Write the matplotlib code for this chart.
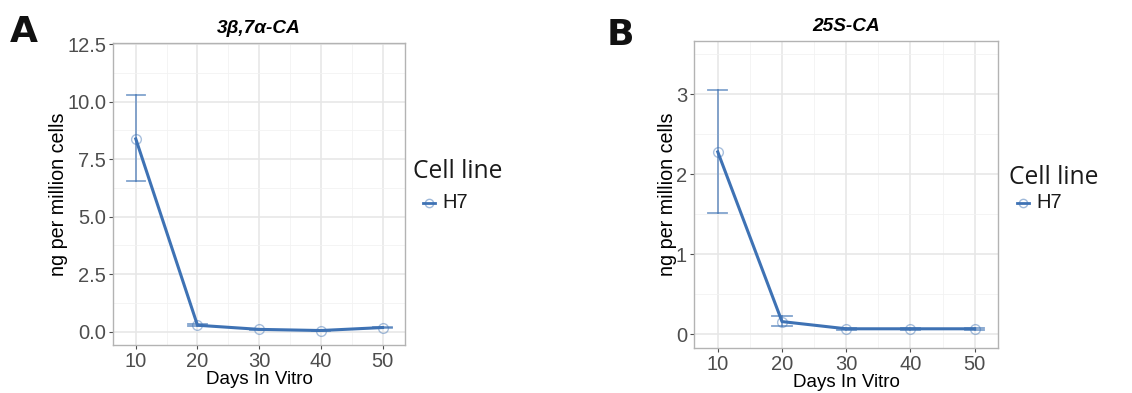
import matplotlib
matplotlib.use("Agg")
import matplotlib.pyplot as plt
from matplotlib.lines import Line2D
from matplotlib.ticker import MultipleLocator

days = [10, 20, 30, 40, 50]

# Panel A: 3beta,7alpha-CA
a_mean = [8.38, 0.28, 0.10, 0.05, 0.18]
a_low = [6.55, 0.24, 0.08, 0.03, 0.14]
a_high = [10.27, 0.32, 0.12, 0.07, 0.22]

# Panel B: 25S-CA
b_mean = [2.28, 0.16, 0.07, 0.07, 0.07]
b_low = [1.52, 0.10, 0.06, 0.06, 0.06]
b_high = [3.05, 0.23, 0.08, 0.08, 0.08]

x_ticks = [10, 20, 30, 40, 50]
a_yticks = [0.0, 2.5, 5.0, 7.5, 10.0, 12.5]
b_yticks = [0, 1, 2, 3]

COLOR = "#3e72b4"
TXT = "#4d4d4d"
FS = "Liberation Sans"

fig = plt.figure(figsize=(11.32, 3.93), dpi=100)


def draw(ax, mean, low, high, yticks, ylim, fmt, minor_y):
    ax.set_xlim(6.3, 53.65)
    ax.set_ylim(*ylim)
    ax.xaxis.set_minor_locator(MultipleLocator(5))
    ax.yaxis.set_minor_locator(MultipleLocator(minor_y))
    ax.set_xticks(x_ticks)
    ax.set_yticks(yticks)
    ax.set_xticklabels([str(v) for v in x_ticks], fontsize=14.5, color=TXT, family=FS)
    ax.set_yticklabels([fmt.format(v) for v in yticks], fontsize=14.5, color=TXT, family=FS)
    ax.grid(which="major", color="#e6e6e6", lw=1.1)
    ax.grid(which="minor", color="#f2f2f2", lw=0.6)
    ax.set_axisbelow(True)
    for s in ax.spines.values():
        s.set_color("#b3b3b3")
        s.set_linewidth(1.0)
    ax.tick_params(which="major", length=3.0, color="#4d4d4d", width=0.8, pad=2)
    ax.tick_params(which="minor", length=0)
    # error bars (caps of width +/-1.5 days)
    for xi, lo, hi in zip(days, low, high):
        ax.plot([xi, xi], [lo, hi], color=COLOR, lw=1.3, alpha=0.65, zorder=2)
        ax.plot([xi - 1.5, xi + 1.5], [lo, lo], color=COLOR, lw=1.3, alpha=0.65, zorder=2)
        ax.plot([xi - 1.5, xi + 1.5], [hi, hi], color=COLOR, lw=1.3, alpha=0.65, zorder=2)
    ax.plot(days, mean, color=COLOR, lw=2.2, zorder=3)
    ax.plot(days, mean, ls="none", marker="o", ms=7, mfc="none", mec=COLOR,
            mew=1.0, alpha=0.45, zorder=4)
    ax.set_xlabel("Days In Vitro", fontsize=13.5, family=FS, color="black", labelpad=0)
    ax.set_ylabel("ng per million cells", fontsize=14.2, family=FS, color="black", labelpad=-1)


axA = fig.add_axes([0.0998, 0.1221, 0.258, 0.7685])
draw(axA, a_mean, a_low, a_high, a_yticks, (-0.58, 12.55), "{:.1f}", 1.25)
axA.set_title("3β,7α-CA", fontsize=13.7, family=FS, fontweight="bold", style="italic", pad=7)

axB = fig.add_axes([0.6131, 0.1145, 0.2686, 0.782])
draw(axB, b_mean, b_low, b_high, b_yticks, (-0.17, 3.67), "{:d}", 0.5)
axB.set_title("25S-CA", fontsize=13.7, family=FS, fontweight="bold", style="italic", pad=7)

fig.text(10 / 1132, 1 - 42 / 393, "A", fontsize=26, fontweight="bold", family="DejaVu Sans", color="#111111")
fig.text(607 / 1132, 1 - 45 / 393, "B", fontsize=26, fontweight="bold", family="DejaVu Sans", color="#111111")

fig.text(413 / 1132, 1 - 172 / 393, "Cell line", fontsize=17.7, family="Open Sans", va="center", color="#1a1a1a")
fig.text(1009 / 1132, 1 - 177 / 393, "Cell line", fontsize=17.7, family="Open Sans", va="center", color="#1a1a1a")
for lx, ly, tx in [(423, 203, 442), (1017, 203, 1036)]:
    fig.add_artist(Line2D([lx / 1132, (lx + 12) / 1132], [1 - ly / 393, 1 - ly / 393],
                          color=COLOR, lw=2.0, transform=fig.transFigure))
    fig.add_artist(Line2D([(lx + 6) / 1132], [1 - ly / 393], marker="o", ms=6, mfc="none",
                          mec=COLOR, mew=1.0, alpha=0.5, transform=fig.transFigure))
    fig.text(tx / 1132, 1 - ly / 393, "H7", fontsize=14.5, family="Liberation Sans", va="center", color="#1a1a1a")

fig.savefig("out.png", dpi=100)
